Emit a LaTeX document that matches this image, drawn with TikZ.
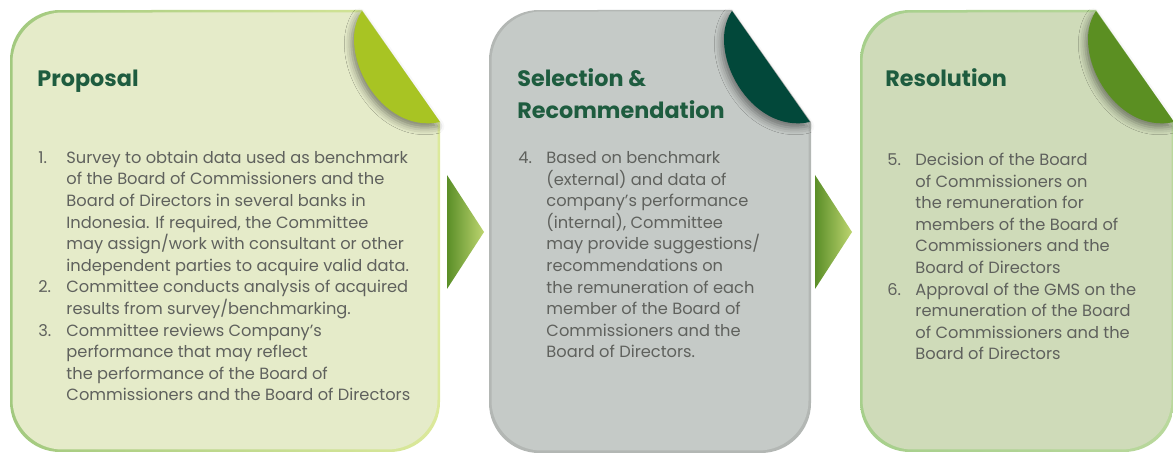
\documentclass[tikz,border=0pt]{standalone}
\usepackage{fontspec}
\setmainfont{Poppins}
\usetikzlibrary{shadows.blur}

% colours
\definecolor{titlegreen}{HTML}{1E5C3F}
\definecolor{bodygray}{HTML}{5F615D}
\definecolor{propfill}{HTML}{E5EBC9}
\definecolor{propedgeL}{HTML}{A2C97F}
\definecolor{propedgeR}{HTML}{DCE99B}
\definecolor{propleaf}{HTML}{A8C423}
\definecolor{selfill}{HTML}{C5CAC7}
\definecolor{seledge}{HTML}{B3B7B4}
\definecolor{selleaf}{HTML}{02483A}
\definecolor{resfill}{HTML}{CFDBB9}
\definecolor{resedgeL}{HTML}{A6CF8B}
\definecolor{resedgeR}{HTML}{B9D89C}
\definecolor{resleaf}{HTML}{5B8F22}
\definecolor{arrowdark}{HTML}{5A8E27}
\definecolor{arrowlight}{HTML}{BDD570}

% card outline: x0, y0, x1, y1, fold x on top edge, fold y on right edge
\newcommand{\cardpath}[6]{(#1,#4-50) -- (#1,#2+50) arc[start angle=180,end angle=90,radius=1cm]
  -- (#5,#2) -- (#3,#6) -- (#3,#4-50) arc[start angle=0,end angle=-90,radius=1cm]
  -- (#1+50,#4) arc[start angle=270,end angle=180,radius=1cm] -- cycle}
\newcommand{\itemno}[1]{\makebox[16pt][l]{#1}}
\newcommand{\itemind}{\hspace*{16pt}}

\begin{document}
\begin{tikzpicture}[x=0.02cm, y=-0.02cm,
    title/.style={anchor=base west, inner sep=0, align=left, text=titlegreen,
      font=\bfseries\fontsize{12.7}{18.7}\selectfont},
    body/.style={anchor=base west, inner sep=0, align=left, text=bodygray,
      font=\fontsize{9.25}{12.3}\selectfont},
    leaf/.style={blur shadow={shadow xshift=-1.5pt, shadow yshift=-2.5pt,
      shadow blur radius=4pt, shadow opacity=45}}]
    \clip (0,0) rectangle (1173,455);

    % Cards
    \shade[left color=propedgeL, right color=propedgeR] \cardpath{10}{10}{440}{452}{362}{122};
    \fill[propfill] \cardpath{12.5}{12.5}{437.5}{449.5}{360}{124};
    \fill[seledge] \cardpath{489}{10}{811}{453}{732}{122};
    \fill[selfill] \cardpath{491.5}{11.5}{808.5}{450.5}{730}{124};
    \shade[left color=resedgeL, right color=resedgeR] \cardpath{860}{10}{1174}{452}{1096}{122};
    \fill[resfill] \cardpath{862.5}{12.5}{1171.5}{449.5}{1094}{124};

    % Folded corners
    \fill[propleaf, leaf] (362,11) .. controls (335,50) and (380,135) .. (440,122) -- cycle;
    \fill[selleaf, leaf] (732,11) .. controls (705,50) and (750,135) .. (810,122) -- cycle;
    \fill[resleaf, leaf] (1096,11) .. controls (1069,50) and (1114,135) .. (1174,122) -- cycle;

    % Arrows between cards
    \shade[left color=arrowdark, right color=arrowlight] (447,175) -- (484,232) -- (447,289) -- cycle;
    \shade[left color=arrowdark, right color=arrowlight] (815,175) -- (852,232) -- (815,289) -- cycle;

    % Titles (multi-line nodes sit on their last baseline)
    \node[title] (prop-title) at (37,87) {Proposal};
    \node[title] (sel-title) at (517,119) {Selection \&\\Recommendation};
    \node[title] (res-title) at (885,87) {Resolution};

    % Lists
    \node[body] (prop-text) at (38,401) {%
        \itemno{1.}Survey to obtain data used as benchmark\\
        \itemind of the Board of Commissioners and the\\
        \itemind Board of Directors in several banks in\\
        \itemind Indonesia. If required, the Committee\\
        \itemind may assign/work with consultant or other\\
        \itemind independent parties to acquire valid data.\\
        \itemno{2.}Committee conducts analysis of acquired\\
        \itemind results from survey/benchmarking.\\
        \itemno{3.}Committee reviews Company’s\\
        \itemind performance that may reflect\\
        \itemind the performance of the Board of\\
        \itemind Commissioners and the Board of Directors};
    \node[body] (sel-text) at (518,358) {%
        \itemno{4.}Based on benchmark\\
        \itemind (external) and data of\\
        \itemind company’s performance\\
        \itemind (internal), Committee\\
        \itemind may provide suggestions/\\
        \itemind recommendations on\\
        \itemind the remuneration of each\\
        \itemind member of the Board of\\
        \itemind Commissioners and the\\
        \itemind Board of Directors.};
    \node[body] (res-text) at (887,360) {%
        \itemno{5.}Decision of the Board\\
        \itemind of Commissioners on\\
        \itemind the remuneration for\\
        \itemind members of the Board of\\
        \itemind Commissioners and the\\
        \itemind Board of Directors\\
        \itemno{6.}Approval of the GMS on the\\
        \itemind remuneration of the Board\\
        \itemind of Commissioners and the\\
        \itemind Board of Directors};
\end{tikzpicture}
\end{document}
